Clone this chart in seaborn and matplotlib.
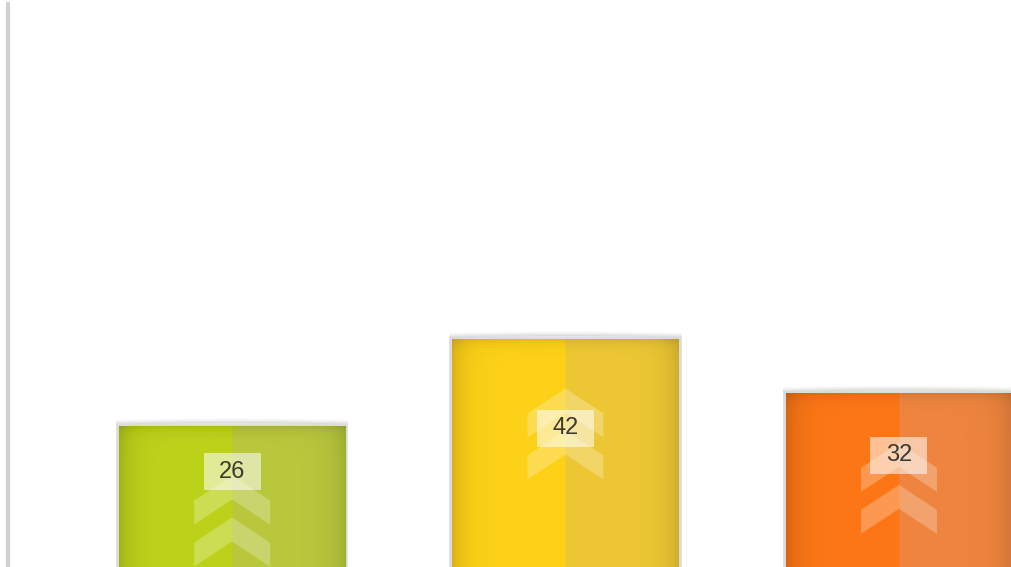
import numpy as np
import pandas as pd
import matplotlib
matplotlib.use("Agg")
import matplotlib.pyplot as plt
import seaborn as sns
from matplotlib.colors import to_rgb
from matplotlib.patches import Polygon, Rectangle

categories = ["Item 1", "Item 2", "Item 3"]
values = [26, 42, 32]
left_colors = ["#bdd31b", "#fed218", "#fd7716"]
right_colors = ["#b9c83c", "#eec834", "#ef853e"]

sns.set_theme(style="white")
plt.rcParams["font.family"] = ["Liberation Sans", "DejaVu Sans"]

W_PX, H_PX = 1011, 567
fig = plt.figure(figsize=(W_PX / 100, H_PX / 100), dpi=100)
ax = fig.add_axes([8 / W_PX, 0, 1 - 8 / W_PX, 563 / H_PX])

df = pd.DataFrame({"cat": categories, "val": values})
sns.barplot(data=df, x="cat", y="val", hue="cat", palette=left_colors,
            width=0.684, legend=False, saturation=1, ax=ax,
            edgecolor="#dcdcd6", linewidth=2.6)

XLIM = (-0.672, 2.336)
YLIM = (0, 103.5)
px_x = (XLIM[1] - XLIM[0]) / (W_PX - 8)
px_y = (YLIM[1] - YLIM[0]) / 563

bars = sorted(ax.patches, key=lambda p: p.get_x())
for i, p in enumerate(bars):
    x0, w, h = p.get_x(), p.get_width(), p.get_height()
    cx = x0 + w / 2
    # gradient fill: two halves, darker edges
    nw = max(int(w / px_x), 2)
    nh = max(int(h / px_y), 2)
    col = np.arange(nw)
    row = np.arange(nh)
    base = np.where(col[:, None] < nw / 2,
                    np.array(to_rgb(left_colors[i]))[None, :],
                    np.array(to_rgb(right_colors[i]))[None, :])
    fx = 1 - 0.15 * np.exp(-col / 13) - 0.14 * np.exp(-(nw - col) / 14)
    fy = 1 - 0.10 * np.exp(-row / 6)
    img = base[None, :, :] * fx[None, :, None] * fy[:, None, None]
    ax.imshow(np.clip(img, 0, 1), extent=(x0 + px_x, x0 + w - px_x, 0, h - px_y),
              aspect="auto", origin="upper", zorder=p.get_zorder() + 0.1,
              interpolation="bilinear")
    # soft shadow on top
    xs = np.linspace(x0 - 2 * px_x, x0 + w + 2 * px_x, 60)
    arch = 1 - ((xs - cx) / (w / 2)) ** 2
    for k, a in zip(range(1, 6), [0.45, 0.32, 0.2, 0.12, 0.06]):
        ax.plot(xs, h + (k + 1.5 * arch.clip(0)) * px_y, color="#c4c4c0",
                alpha=a, lw=1.3, solid_capstyle="butt", zorder=p.get_zorder() - 0.1)
    # chevrons
    hw, d, t = 38 * px_x, 25 * px_y, 24 * px_y
    for k in range(2):
        top = h - 18 + 48 * px_y - k * 42 * px_y
        chev = Polygon([(cx, top), (cx - hw, top - d), (cx - hw, top - d - t),
                        (cx, top - t), (cx + hw, top - d - t), (cx + hw, top - d)],
                       closed=True, facecolor="white", edgecolor="none",
                       alpha=0.25, zorder=p.get_zorder() + 0.2)
        ax.add_patch(chev)
    # value label
    ly = h / 2 + 4.5
    bw, bh = 57 * px_x, 37 * px_y
    ax.add_patch(Rectangle((cx - bw / 2, ly - bh / 2), bw, bh, facecolor="white",
                           edgecolor="none", alpha=0.55, zorder=p.get_zorder() + 0.3))
    ax.text(cx, ly, f"{values[i]}", ha="center", va="center", fontsize=17,
            color="#3a3a30", zorder=p.get_zorder() + 0.4)

ax.set_xlim(*XLIM)
ax.set_ylim(*YLIM)
ax.set_xticks([])
ax.set_yticks([])
ax.set_xlabel("")
ax.set_ylabel("")
for s in ["top", "right", "bottom"]:
    ax.spines[s].set_visible(False)
ax.spines["left"].set_color("#d0d0d0")
ax.spines["left"].set_linewidth(3)
ax.patch.set_alpha(0)

fig.savefig("out.png", dpi=100)
